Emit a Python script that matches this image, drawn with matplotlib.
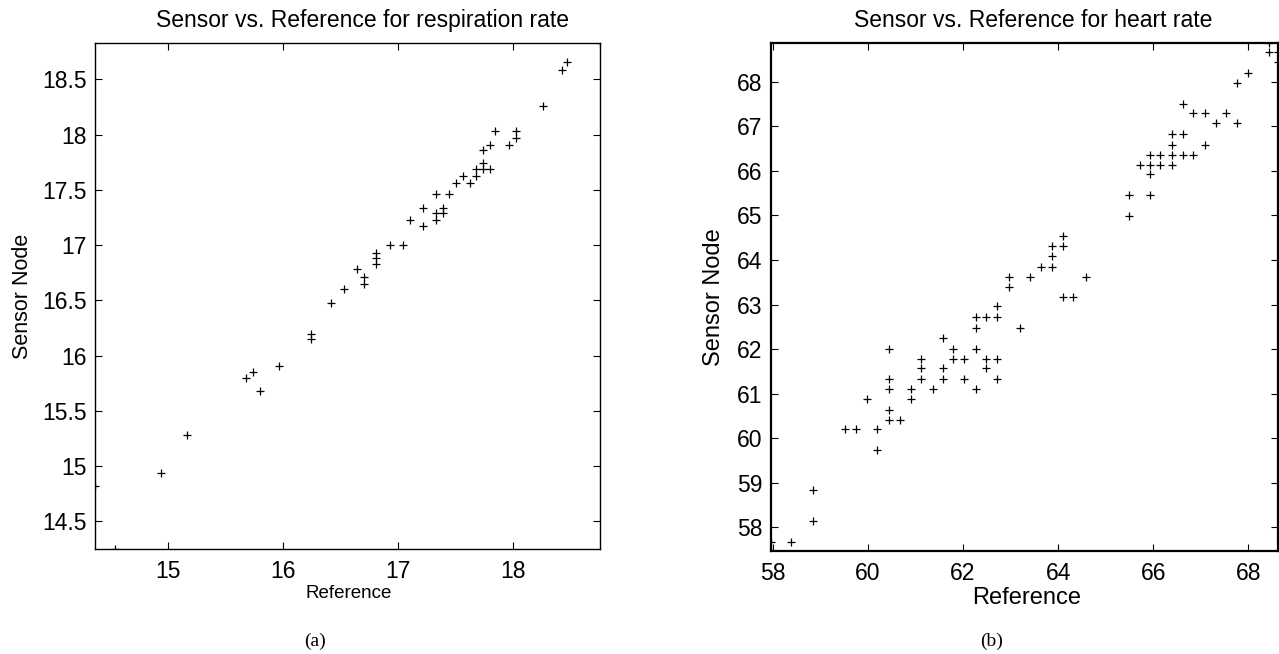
import matplotlib
matplotlib.use("Agg")
import matplotlib.pyplot as plt
from matplotlib.ticker import FuncFormatter

plt.rcParams['font.family'] = ['Liberation Sans', 'DejaVu Sans']

# ---- data ----
resp_ref = [14.367, 14.54, 14.94, 15.17, 15.68, 15.74, 15.80, 15.97, 16.25, 16.25,
            16.42, 16.53, 16.645, 16.71, 16.71, 16.81, 16.81, 16.81, 16.93, 17.05,
            17.11, 17.22, 17.22, 17.33, 17.33, 17.33, 17.39, 17.39, 17.45, 17.51,
            17.565, 17.63, 17.68, 17.68, 17.74, 17.74, 17.74, 17.80, 17.80, 17.85,
            17.965, 18.03, 18.03, 18.26, 18.43, 18.475, 18.76]
resp_sensor = [14.82, 14.25, 14.94, 15.28, 15.80, 15.85, 15.68, 15.905, 16.20, 16.15,
               16.48, 16.60, 16.78, 16.71, 16.65, 16.93, 16.88, 16.83, 17.00, 17.00,
               17.23, 17.34, 17.175, 17.46, 17.29, 17.23, 17.34, 17.29, 17.46, 17.56,
               17.63, 17.56, 17.69, 17.63, 17.86, 17.74, 17.69, 17.69, 17.91, 18.03,
               17.91, 18.03, 17.97, 18.26, 18.59, 18.66, 18.83]

hr_ref = [57.96, 57.96, 58.38, 58.85, 58.85, 59.52, 59.76, 60.20, 60.20, 59.98,
          60.45, 60.45, 60.45, 60.45, 60.45, 60.68, 60.91, 60.91, 61.12, 61.12,
          61.12, 61.37, 61.58, 61.58, 61.58, 61.80, 61.80, 62.03, 62.03, 62.28,
          62.28, 62.28, 62.28, 62.49, 62.49, 62.49, 62.72, 62.72, 62.72, 62.72,
          62.96, 62.96, 63.19, 63.41, 63.63, 63.88, 63.88, 63.88, 64.10, 64.10,
          64.10, 64.32, 64.58, 65.48, 65.48, 65.71, 65.92, 65.92, 65.92, 65.92,
          66.15, 66.15, 66.40, 66.40, 66.40, 66.40, 66.62, 66.62, 66.62, 66.83,
          66.83, 67.08, 67.08, 67.31, 67.53, 67.75, 67.75, 68.00, 68.43, 68.43,
          68.62, 68.62]
hr_sensor = [57.66, 57.46, 57.66, 58.83, 58.13, 60.20, 60.20, 60.20, 59.73, 60.87,
             62.01, 61.33, 61.10, 60.63, 60.40, 60.40, 61.10, 60.87, 61.77, 61.57,
             61.33, 61.10, 62.24, 61.57, 61.33, 62.01, 61.77, 61.77, 61.33, 62.72,
             62.48, 62.01, 61.10, 62.72, 61.77, 61.57, 62.96, 62.72, 61.77, 61.33,
             63.62, 63.39, 62.48, 63.62, 63.85, 64.32, 64.08, 63.85, 64.55, 64.32,
             63.16, 63.16, 63.62, 65.47, 64.99, 66.13, 66.36, 66.13, 65.93, 65.47,
             66.36, 66.13, 66.83, 66.59, 66.36, 66.13, 67.51, 66.83, 66.36, 67.30,
             66.36, 67.30, 66.59, 67.07, 67.30, 67.97, 67.07, 68.20, 68.88, 68.67,
             68.67, 68.44]

resp_xticks = [15, 16, 17, 18]
resp_yticks = [14.5, 15, 15.5, 16, 16.5, 17, 17.5, 18, 18.5]
hr_xticks = [58, 60, 62, 64, 66, 68]
hr_yticks = [58, 59, 60, 61, 62, 63, 64, 65, 66, 67, 68]

W, H = 1279, 654
fig = plt.figure(figsize=(W / 100, H / 100), dpi=100)


def px_axes(left, top, right, bottom):
    return fig.add_axes([left / W, 1 - bottom / H, (right - left) / W, (bottom - top) / H])


def style(ax, lw):
    for s in ax.spines.values():
        s.set_linewidth(lw)
    ax.tick_params(direction='in', top=True, right=True, length=5, width=0.8,
                   labelsize=16.5, colors='black')
    ax.tick_params(axis='x', pad=8)
    ax.tick_params(axis='y', pad=6)
    ax.yaxis.set_major_formatter(FuncFormatter(lambda v, p: '%g' % v))
    ax.xaxis.set_major_formatter(FuncFormatter(lambda v, p: '%g' % v))


# (a) respiration rate
ax1 = px_axes(95, 43, 600, 549)
ax1.plot(resp_ref, resp_sensor, '+', color='black', markersize=5.5, markeredgewidth=0.9)
ax1.set_xlim(min(resp_ref), max(resp_ref))
ax1.set_ylim(min(resp_sensor), max(resp_sensor))
ax1.set_xticks(resp_xticks)
ax1.set_yticks(resp_yticks)
style(ax1, 1.0)
ax1.text(0.53, 1 + 16 / 506, 'Sensor vs. Reference for respiration rate',
         transform=ax1.transAxes, ha='center', va='baseline', fontsize=16.5)
ax1.set_xlabel('Reference', fontsize=13.5)
ax1.xaxis.set_label_coords(0.503, -0.087)
ax1.xaxis.label.set_va('center')
ax1.set_ylabel('Sensor Node', fontsize=15.5)
ax1.yaxis.set_label_coords(-0.143, 0.5)
ax1.yaxis.label.set_va('center')

# (b) heart rate
ax2 = px_axes(770.7, 42.7, 1278, 551.3)
ax2.plot(hr_ref, hr_sensor, '+', color='black', markersize=5.5, markeredgewidth=0.9)
ax2.set_xlim(min(hr_ref), max(hr_ref))
ax2.set_ylim(min(hr_sensor), max(hr_sensor))
ax2.set_xticks(hr_xticks)
ax2.set_yticks(hr_yticks)
style(ax2, 1.6)
ax2.text(0.517, 1 + 16 / 508, 'Sensor vs. Reference for heart rate',
         transform=ax2.transAxes, ha='center', va='baseline', fontsize=16.5)
ax2.set_xlabel('Reference', fontsize=17)
ax2.xaxis.set_label_coords(0.505, -0.092)
ax2.xaxis.label.set_va('center')
ax2.set_ylabel('Sensor Node', fontsize=17)
ax2.yaxis.set_label_coords(-0.112, 0.5)
ax2.yaxis.label.set_va('center')

# captions
fig.text(315 / W, 1 - 641 / H, '(a)', ha='center', va='center',
         fontsize=14, family='Liberation Serif')
fig.text(991.7 / W, 1 - 641 / H, '(b)', ha='center', va='center',
         fontsize=14, family='Liberation Serif')

fig.savefig('out.png', dpi=100)
